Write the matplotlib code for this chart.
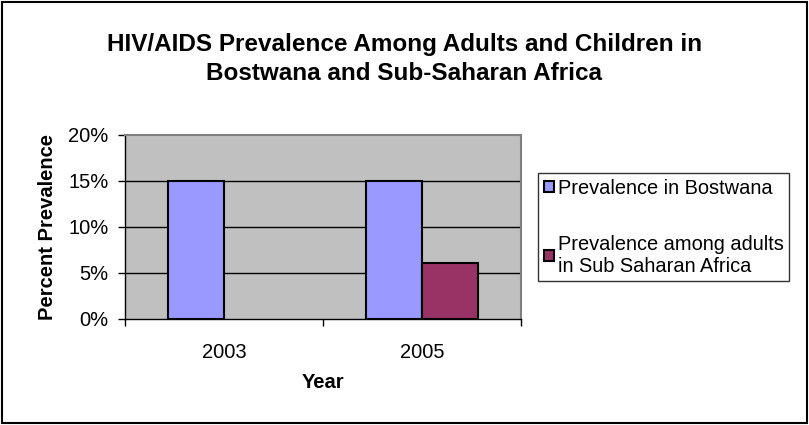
import matplotlib
matplotlib.use("Agg")
import matplotlib.pyplot as plt
import numpy as np
from matplotlib.patches import Rectangle
from matplotlib.ticker import FuncFormatter

years = ["2003", "2005"]
bostwana = [15.0, 15.0]
ssa = [np.nan, 6.1]
series_names = ["Prevalence in Bostwana", "Prevalence among adults\nin Sub Saharan Africa"]
colors = ["#9999FF", "#993366"]

plt.rcParams['font.family'] = ['Liberation Sans', 'DejaVu Sans']

fig = plt.figure(figsize=(8.09, 4.25), dpi=100)
fig.patch.set_facecolor("white")
fig.add_artist(Rectangle((0.003, 0.004), 0.994, 0.992, transform=fig.transFigure,
                         fill=False, edgecolor="black", linewidth=1.5))

ax = fig.add_axes([125/809, 1-319/425, (521-125)/809, (319-135)/425])
ax.set_facecolor("#C0C0C0")

x = np.arange(len(years))
w = 0.283
b1 = ax.bar(x - w/2, bostwana, w, color=colors[0], edgecolor="black", linewidth=1.5, zorder=3)
b2 = ax.bar(x + w/2, ssa, w, color=colors[1], edgecolor="black", linewidth=1.5, zorder=3)

ax.set_xlim(-0.5, 1.5)
ax.set_ylim(0, 20)
ax.set_yticks([0, 5, 10, 15, 20])
ax.yaxis.set_major_formatter(FuncFormatter(lambda v, p: f"{v:.0f}%"))
for yv in [5, 10, 15]:
    ax.axhline(yv, color="black", linewidth=1, zorder=1)

ax.set_xticks(x)
ax.set_xticklabels(years)
ax.set_xticks([-0.5, 0.5, 1.5], minor=True)
ax.tick_params(axis="x", which="major", length=0, pad=17, labelsize=14.5)
ax.tick_params(axis="x", which="minor", length=5, width=1, direction="out", color="black")
ax.tick_params(axis="y", length=5, width=1, direction="out", labelsize=14.5, pad=7)

for s in ["top", "right"]:
    ax.spines[s].set_color("#808080")
    ax.spines[s].set_linewidth(1.5)
ax.spines["left"].set_color("black")
ax.spines["bottom"].set_color("black")
ax.spines["left"].set_linewidth(1)
ax.spines["bottom"].set_linewidth(1)

ax.set_xlabel("Year", fontsize=14.5, fontweight="bold", labelpad=8)
ax.set_ylabel("Percent Prevalence", fontsize=14.5, fontweight="bold", labelpad=8)

fig.text(0.5, 1-45/425, "HIV/AIDS Prevalence Among Adults and Children in",
         ha="center", va="center", fontsize=17.5, fontweight="bold")
fig.text(0.5, 1-74/425, "Bostwana and Sub-Saharan Africa",
         ha="center", va="center", fontsize=17.5, fontweight="bold")

leg = fig.legend([b1, b2], series_names, loc="upper left",
                 bbox_to_anchor=(538/809, 1-173/425),
                 frameon=True, fancybox=False, edgecolor="black", fontsize=14.4,
                 handlelength=0.5, handleheight=0.5, handletextpad=0.2,
                 labelspacing=1.85, borderpad=0.28, borderaxespad=0)
leg.get_frame().set_linewidth(1)
for h in leg.legend_handles:
    h.set_linewidth(1.5)

fig.savefig("out.png", dpi=100)
